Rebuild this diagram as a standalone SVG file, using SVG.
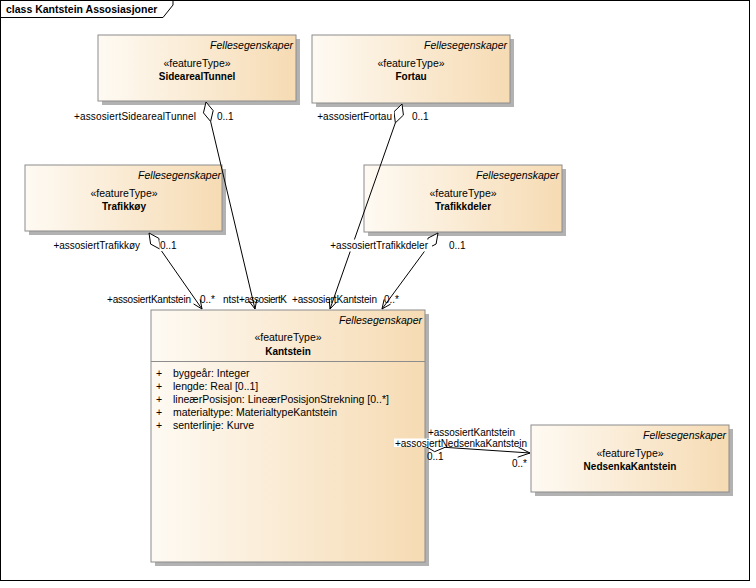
<svg xmlns="http://www.w3.org/2000/svg" width="756" height="588" viewBox="0 0 756 588">
<defs>
<linearGradient id="fill" x1="0" y1="0" x2="1" y2="0">
<stop offset="0" stop-color="#FEFAF3"/>
<stop offset="1" stop-color="#F6DBB3"/>
</linearGradient>
<style>
.frame{fill:#FFFFFF;stroke:#000;stroke-width:1}
.shadow{fill:#B2B2B2}
.box{fill:url(#fill);stroke:#8C8C8C;stroke-width:1}
.sep{stroke:#8C8C8C;stroke-width:1}
.pkg{font-family:"Liberation Sans",Arial,sans-serif;font-size:10.5px;font-style:italic;fill:#000;text-anchor:end}
.st{font-family:"Liberation Sans",Arial,sans-serif;font-size:10.5px;fill:#000;text-anchor:middle}
.nm{font-family:"Liberation Sans",Arial,sans-serif;font-size:10px;font-weight:bold;fill:#000;text-anchor:middle}
.at{font-family:"Liberation Sans",Arial,sans-serif;font-size:10.5px;fill:#000}
.lb{font-family:"Liberation Sans",Arial,sans-serif;font-size:10px;fill:#000}
.end{text-anchor:end}
.title{font-family:"Liberation Sans",Arial,sans-serif;font-size:10.5px;font-weight:bold;fill:#000}
.ln{fill:none;stroke:#000;stroke-width:1}
.dia{fill:#FFFFFF;stroke:#000;stroke-width:1}
.bg{fill:#FFFFFF}
</style>
</defs>
<rect x="0" y="0" width="756" height="588" fill="#FFFFFF"/>
<g id="frame">
<rect class="frame" x="0.5" y="0.5" width="749" height="580"/>
<path class="ln" d="M0.5,17.5 H163 L173,5 V0.5"/>
<text class="title" x="6" y="13">class Kantstein Assosiasjoner</text>
</g>

<g id="SidearealTunnel">
<rect class="shadow" x="102" y="39" width="198" height="66"/>
<rect class="box" x="98" y="35" width="198" height="66"/>
<text class="pkg" x="293" y="49">Fellesegenskaper</text>
<text class="st" x="197" y="67">«featureType»</text>
<text class="nm" x="197" y="80">SidearealTunnel</text>
</g>

<g id="Fortau">
<rect class="shadow" x="316" y="39" width="198" height="68"/>
<rect class="box" x="312" y="35" width="198" height="68"/>
<text class="pkg" x="507" y="49">Fellesegenskaper</text>
<text class="st" x="411" y="67">«featureType»</text>
<text class="nm" x="411" y="80">Fortau</text>
</g>

<g id="Trafikkoy">
<rect class="shadow" x="29" y="169" width="197" height="66"/>
<rect class="box" x="25" y="165" width="197" height="66"/>
<text class="pkg" x="221" y="179">Fellesegenskaper</text>
<text class="st" x="124" y="197">«featureType»</text>
<text class="nm" x="124" y="210">Trafikkøy</text>
</g>

<g id="Trafikkdeler">
<rect class="shadow" x="368" y="169" width="198" height="67"/>
<rect class="box" x="364" y="165" width="198" height="67"/>
<text class="pkg" x="559" y="179">Fellesegenskaper</text>
<text class="st" x="463" y="197">«featureType»</text>
<text class="nm" x="463" y="210">Trafikkdeler</text>
</g>

<g id="Kantstein">
<rect class="shadow" x="155" y="314" width="274" height="252"/>
<rect class="box" x="151" y="310" width="274" height="252"/>
<text class="pkg" x="422" y="324">Fellesegenskaper</text>
<text class="st" x="288" y="341">«featureType»</text>
<text class="nm" x="288" y="355">Kantstein</text>
<line class="sep" x1="151" y1="361.5" x2="425" y2="361.5"/>
<text class="at" x="156" y="377">+</text><text class="at" x="173" y="377">byggeår: Integer</text>
<text class="at" x="156" y="390">+</text><text class="at" x="173" y="390">lengde: Real [0..1]</text>
<text class="at" x="156" y="403">+</text><text class="at" x="173" y="403">lineærPosisjon: LineærPosisjonStrekning [0..*]</text>
<text class="at" x="156" y="416">+</text><text class="at" x="173" y="416">materialtype: MaterialtypeKantstein</text>
<text class="at" x="156" y="429">+</text><text class="at" x="173" y="429">senterlinje: Kurve</text>
</g>

<g id="NedsenkaKantstein">
<rect class="shadow" x="535" y="429" width="198" height="67"/>
<rect class="box" x="531" y="425" width="198" height="67"/>
<text class="pkg" x="726" y="439">Fellesegenskaper</text>
<text class="st" x="630" y="457">«featureType»</text>
<text class="nm" x="630" y="470">NedsenkaKantstein</text>
</g>

<g id="connectors">
<!-- Trafikkoy -> Kantstein -->
<polygon class="dia" points="149,233 150.62,244.06 160.44,249.4 158.82,238.34"/>
<line class="ln" x1="160.44" y1="249.4" x2="202" y2="309"/>
<polyline class="ln" points="193.57,303.91 202,309 200.13,299.33"/>
<!-- SidearealTunnel -> Kantstein -->
<polygon class="dia" points="206,102 203.44,112.88 210.61,121.46 213.17,110.58"/>
<line class="ln" x1="210.61" y1="121.46" x2="255" y2="309"/>
<polyline class="ln" points="249.04,301.16 255,309 256.82,299.32"/>
<!-- Fortau -> Kantstein -->
<polygon class="dia" points="402,104 393.97,111.77 395.37,122.87 403.41,115.09"/>
<line class="ln" x1="395.37" y1="122.87" x2="330" y2="309"/>
<polyline class="ln" points="329.21,299.18 330,309 336.75,301.84"/>
<!-- Trafikkdeler -> Kantstein -->
<polygon class="dia" points="438,233 428.04,238.08 426.14,249.1 436.1,244.02"/>
<line class="ln" x1="426.14" y1="249.1" x2="382" y2="309"/>
<polyline class="ln" points="384.12,299.38 382,309 390.56,304.12"/>
<!-- Kantstein -> NedsenkaKantstein -->
<polygon class="dia" points="425,446 434.65,451.66 444.96,447.33 435.31,441.68"/>
<line class="ln" x1="444.96" y1="447.33" x2="530" y2="453"/>
<polyline class="ln" points="518.36,447.21 530,453 517.7,457.19"/>

<!-- role / multiplicity labels -->
<text class="lb end" x="196" y="120" textLength="122">+assosiertSidearealTunnel</text>
<text class="lb" x="217" y="120">0..1</text>
<rect class="bg" x="316" y="111" width="78" height="11"/>
<text class="lb end" x="392" y="120">+assosiertFortau</text>
<text class="lb" x="412" y="120">0..1</text>
<text class="lb end" x="140" y="249">+assosiertTrafikkøy</text>
<rect class="bg" x="159.5" y="240" width="18" height="11"/>
<text class="lb" x="160" y="249">0..1</text>
<rect class="bg" x="329" y="239.5" width="103" height="12"/>
<text class="lb end" x="428" y="249">+assosiertTrafikkdeler</text>
<text class="lb" x="449" y="249">0..1</text>

<text class="lb" x="107" y="303" textLength="84">+assosiertKantstein</text>
<text class="lb" x="200" y="303">0..*</text>
<text class="lb" x="223" y="303">ntst</text>
<text class="lb" x="239" y="303" textLength="48">+assosiertK</text>
<text class="lb" x="292" y="303" textLength="85">+assosiertKantstein</text>
<text class="lb" x="384" y="303">0..*</text>

<rect class="bg" x="394" y="438.5" width="134" height="8.5"/>
<text class="lb" x="395" y="447" textLength="132">+assosiertNedsenkaKantstein</text>
<text class="lb" x="428" y="435.5" textLength="87">+assosiertKantstein</text>
<text class="lb" x="427" y="460">0..1</text>
<text class="lb" x="512" y="467">0..*</text>
</g>
</svg>
